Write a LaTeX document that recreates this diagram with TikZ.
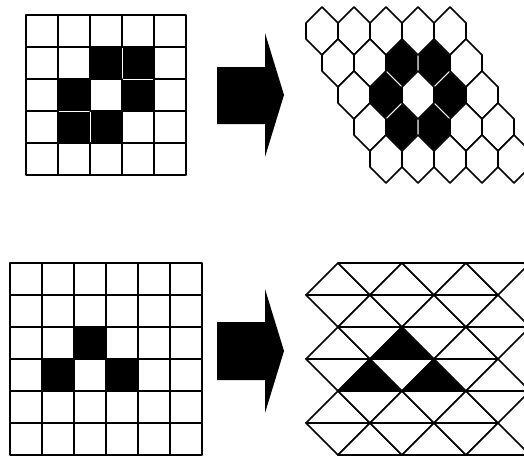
\documentclass[tikz,border=0pt]{standalone}
\begin{document}
\begin{tikzpicture}[x=1pt,y=-1pt,
  gridline/.style={draw=black, fill=white, line width=1.7pt, line join=round},
  blackcell/.style={draw=white, fill=black, line width=1pt, line join=round},
  bigarrow/.style={fill=black}]
\useasboundingbox (0,0) rectangle (524,458);
\clip (0,0) rectangle (524,458);
% black cells of the top pattern
\foreach \r/\c in {1/2,1/3,2/1,2/3,3/1,3/2}{\expandafter\gdef\csname sqA-\r-\c\endcsname{}}
% black cells of the bottom pattern
\foreach \r/\c in {2/2,3/1,3/3}{\expandafter\gdef\csname sqB-\r-\c\endcsname{}}

% ---- top square grid ----
\foreach \r in {0,...,4}{\foreach \c in {0,...,4}{
  \ifcsname sqA-\r-\c\endcsname
    \path[blackcell] (26+32*\c,15+32*\r) rectangle ++(32,32);
  \fi}}
\foreach \r in {0,...,4}{\foreach \c in {0,...,4}{
  \ifcsname sqA-\r-\c\endcsname\else
    \path[gridline] (26+32*\c,15+32*\r) rectangle ++(32,32);
  \fi}}

% ---- top hex grid ----
\foreach \r in {0,...,4}{\foreach \c in {0,...,4}{
  \pgfmathsetmacro\hx{322+32*\c+16*\r}
  \pgfmathsetmacro\hy{31+32*\r}
  \ifcsname sqA-\r-\c\endcsname
    \path[blackcell] (\hx,\hy-24) -- (\hx+16,\hy-8) -- (\hx+16,\hy+8) -- (\hx,\hy+24) -- (\hx-16,\hy+8) -- (\hx-16,\hy-8) -- cycle;
  \fi}}
\foreach \r in {0,...,4}{\foreach \c in {0,...,4}{
  \pgfmathsetmacro\hx{322+32*\c+16*\r}
  \pgfmathsetmacro\hy{31+32*\r}
  \ifcsname sqA-\r-\c\endcsname\else
    \path[gridline] (\hx,\hy-24) -- (\hx+16,\hy-8) -- (\hx+16,\hy+8) -- (\hx,\hy+24) -- (\hx-16,\hy+8) -- (\hx-16,\hy-8) -- cycle;
  \fi}}

% ---- bottom square grid ----
\foreach \r in {0,...,5}{\foreach \c in {0,...,5}{
  \ifcsname sqB-\r-\c\endcsname
    \path[gridline, fill=black] (10+32*\c,263+32*\r) rectangle ++(32,32);
  \else
    \path[gridline] (10+32*\c,263+32*\r) rectangle ++(32,32);
  \fi}}

% ---- bottom triangle grid ----
\foreach \r in {0,...,5}{\foreach \c in {0,...,5}{
  \pgfmathsetmacro\L{306+32*\c}
  \pgfmathsetmacro\yt{263+32*\r}
  \pgfmathsetmacro\yb{295+32*\r}
  \pgfmathtruncatemacro\p{\r+\c}
  \ifcsname sqB-\r-\c\endcsname\def\tfill{black}\else\def\tfill{white}\fi
  \ifodd\p
    \path[gridline, fill=\tfill] (\L,\yt) -- (\L+64,\yt) -- (\L+32,\yb) -- cycle;
  \else
    \path[gridline, fill=\tfill] (\L,\yb) -- (\L+32,\yt) -- (\L+64,\yb) -- cycle;
  \fi}}

% ---- block arrows ----
\path[bigarrow] (217,67) -- (265,67) -- (265,33) -- (284,95) -- (265,157) -- (265,124) -- (217,124) -- cycle;
\path[bigarrow] (217,322) -- (265,322) -- (265,289) -- (284,351) -- (265,413) -- (265,380) -- (217,380) -- cycle;
\end{tikzpicture}
\end{document}
